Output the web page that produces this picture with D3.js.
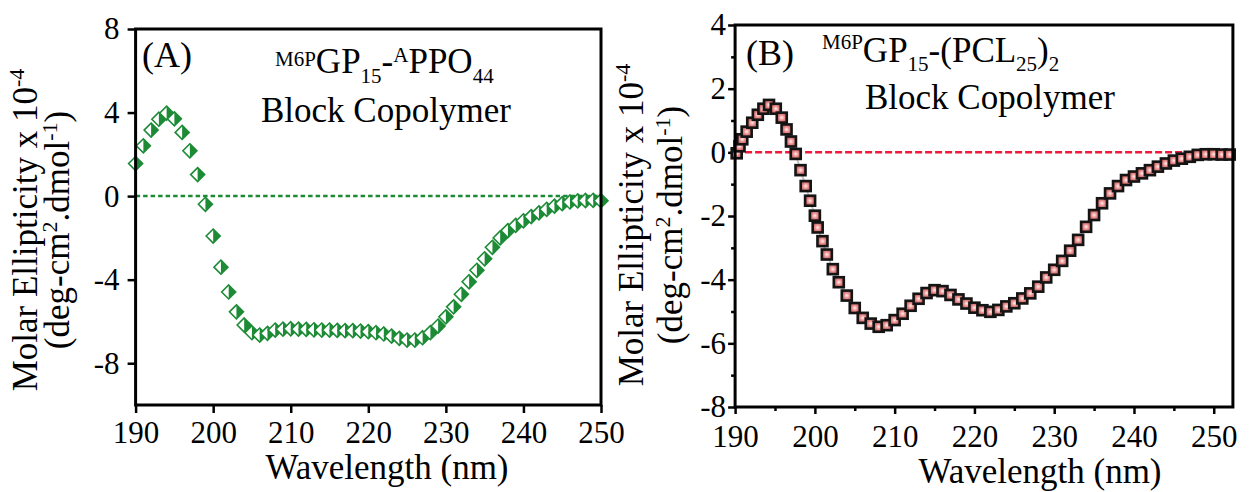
<!DOCTYPE html>
<html><head><meta charset="utf-8">
<script src="https://cdn.jsdelivr.net/npm/d3@7"></script>
<style>
body{margin:0;background:#fff}
svg{display:block}
text{font-family:"Liberation Serif","Times New Roman",serif;fill:#000}
</style>
</head><body>
<svg id="chart" width="1249" height="492"></svg>
<script>
// ---------- Panel A data ----------
const aWavelength = [190,191,192,193,194,195,196,197,198,199,200,201,202,203,204,205,206,207,208,209,210,
  211,212,213,214,215,216,217,218,219,220,221,222,223,224,225,226,227,228,229,230,
  231,232,233,234,235,236,237,238,239,240,241,242,243,244,245,246,247,248,249,250];
const aEllipticity = [1.56,2.41,3.16,3.68,3.97,3.70,3.05,2.17,1.03,-0.39,-1.91,-3.40,-4.59,-5.54,-6.17,-6.54,-6.65,-6.57,-6.41,-6.37,-6.35,
  -6.37,-6.38,-6.40,-6.41,-6.41,-6.43,-6.44,-6.44,-6.46,-6.49,-6.54,-6.60,-6.70,-6.81,-6.89,-6.89,-6.78,-6.54,-6.22,-5.78,
  -5.30,-4.70,-4.10,-3.55,-3.00,-2.45,-2.00,-1.65,-1.40,-1.18,-0.98,-0.80,-0.63,-0.48,-0.36,-0.28,-0.23,-0.21,-0.20,-0.22];
const aXTicks = [190,200,210,220,230,240,250];
const aYTicks = [8,4,0,-4,-8];

// ---------- Panel B data ----------
const bWavelength = [190.2,190.55,190.9,191.45,192.15,192.85,193.55,194.25,195.1,195.85,196.45,197.0,197.6,198.2,198.85,199.4,
  200.0,200.35,200.95,201.5,202.25,203,204,205,206,207,208,209,210,211,212,213,214,215,216,217,218,219,220,
  221,222,223,224,225,226,227,228,229,230,231,232,233,234,235,236,237,238,239,240,241,242,243,244,245,246,247,248,249,250,251,252];
const bEllipticity = [-0.03,0.19,0.41,0.65,0.93,1.18,1.37,1.49,1.37,1.09,0.72,0.34,-0.05,-0.56,-1.06,-1.52,
  -1.99,-2.36,-2.79,-3.21,-3.67,-4.08,-4.50,-4.89,-5.20,-5.38,-5.48,-5.43,-5.27,-5.07,-4.82,-4.60,-4.42,-4.33,-4.36,-4.48,-4.62,-4.75,-4.88,
  -4.96,-5.01,-4.95,-4.84,-4.74,-4.59,-4.43,-4.22,-3.93,-3.69,-3.41,-3.09,-2.75,-2.34,-1.97,-1.60,-1.29,-1.06,-0.87,-0.76,-0.66,-0.56,-0.45,-0.35,-0.26,-0.20,-0.14,-0.08,-0.06,-0.06,-0.07,-0.07];
const bXTicks = [190,200,210,220,230,240,250];
const bXMinor = [195,205,215,225,235,245];
const bYTicks = [4,2,0,-2,-4,-6,-8];
const bYMinor = [3,1,-1,-3,-5,-7];

const svg = d3.select("#chart");
const green = "#1d8b36";
const red = "#ee1a3c";

const defs = svg.append("defs");
const rg = defs.append("radialGradient").attr("id","pinkGrad");
rg.append("stop").attr("offset","0%").attr("stop-color","#fff2f2");
rg.append("stop").attr("offset","45%").attr("stop-color","#f39a9a");
rg.append("stop").attr("offset","100%").attr("stop-color","#b85a5a");

function styleAxis(g, fs){
  g.select(".domain").remove();
  g.selectAll(".tick line").attr("stroke","#000").attr("stroke-width",2.5);
  g.selectAll(".tick text").style("font-size",fs+"px").attr("fill","#000")
    .style("font-family",'"Liberation Serif","Times New Roman",serif');
}
const fmt = d => String(d);

// ================= Panel A =================
const ax = d3.scaleLinear().domain([190,250]).range([135.6,601]);
const ay = d3.scaleLinear().domain([-10,8]).range([405,29]);
const gA = svg.append("g");

gA.append("g").attr("transform","translate(0,405)")
  .call(d3.axisBottom(ax).tickValues(aXTicks).tickSize(8).tickPadding(8).tickFormat(fmt))
  .call(g=>styleAxis(g,31));
gA.append("g").attr("transform","translate(135.6,0)")
  .call(d3.axisLeft(ay).tickValues(aYTicks).tickSize(8).tickPadding(8).tickFormat(fmt))
  .call(g=>styleAxis(g,31));

gA.append("line").attr("x1",ax(190)).attr("x2",ax(250)).attr("y1",ay(0)).attr("y2",ay(0))
  .attr("stroke",green).attr("stroke-width",2.5).attr("stroke-dasharray","4.5,3");

const dia = 7;
const aPts = gA.append("g").selectAll("g").data(aWavelength.map((w,i)=>({w, v:aEllipticity[i]})))
  .join("g").attr("transform", d=>`translate(${ax(d.w)},${ay(d.v)})`);
aPts.append("path").attr("d",`M0,${-dia}L${dia},0L0,${dia}L${-dia},0Z`).attr("fill","#fff");
aPts.append("path").attr("d",`M0,${-dia}L${dia},0L0,${dia}Z`).attr("fill",green);
aPts.append("path").attr("d",`M0,${-dia}L${dia},0L0,${dia}L${-dia},0Z`).attr("fill","none")
  .attr("stroke",green).attr("stroke-width",1.6);

gA.append("rect").attr("x",135.6).attr("y",29).attr("width",601-135.6).attr("height",405-29)
  .attr("fill","none").attr("stroke","#000").attr("stroke-width",3);

gA.append("text").attr("x",142).attr("y",67).style("font-size","36px").text("(A)");
const tA = gA.append("text").attr("x",275).attr("y",73).style("font-size","35px");
tA.append("tspan").attr("dy",-7).style("font-size","21px").text("M6P");
tA.append("tspan").attr("dy",7).text("GP");
tA.append("tspan").attr("dy",10).style("font-size","21px").text("15");
tA.append("tspan").attr("dy",-10).text("-");
tA.append("tspan").attr("dy",-11).style("font-size","21px").text("A");
tA.append("tspan").attr("dy",11).text("PPO");
tA.append("tspan").attr("dy",10).style("font-size","21px").text("44");
gA.append("text").attr("x",261).attr("y",122).style("font-size","35px").text("Block Copolymer");

gA.append("text").attr("x",387).attr("y",479).attr("text-anchor","middle").style("font-size","35px").text("Wavelength (nm)");
const yA1 = gA.append("text").attr("transform","translate(37,230) rotate(-90)").attr("text-anchor","middle").style("font-size","35px");
yA1.append("tspan").text("Molar Ellipticity x 10");
yA1.append("tspan").attr("dy",-13).style("font-size","22px").text("-4");
const yA2 = gA.append("text").attr("transform","translate(69,230) rotate(-90)").attr("text-anchor","middle").style("font-size","35px");
yA2.append("tspan").text("(deg-cm");
yA2.append("tspan").attr("dy",-12).style("font-size","22px").text("2");
yA2.append("tspan").attr("dy",12).text(".dmol");
yA2.append("tspan").attr("dy",-12).style("font-size","22px").text("-1");
yA2.append("tspan").attr("dy",12).text(")");

// ================= Panel B =================
const bx = d3.scaleLinear().domain([190,252.4]).range([735.1,1232.9]);
const by = d3.scaleLinear().domain([-8,4]).range([407,25]);
const gB = svg.append("g");

gB.append("g").attr("transform","translate(0,407)")
  .call(d3.axisBottom(bx).tickValues(bXTicks).tickSize(7).tickPadding(11).tickFormat(fmt))
  .call(g=>styleAxis(g,31));
gB.append("g").attr("transform","translate(0,407)")
  .call(d3.axisBottom(bx).tickValues(bXMinor).tickSize(4).tickFormat(""))
  .call(g=>styleAxis(g,31));
gB.append("g").attr("transform","translate(735.1,0)")
  .call(d3.axisLeft(by).tickValues(bYTicks).tickSize(7).tickPadding(2).tickFormat(fmt))
  .call(g=>styleAxis(g,31));
gB.append("g").attr("transform","translate(735.1,0)")
  .call(d3.axisLeft(by).tickValues(bYMinor).tickSize(4).tickFormat(""))
  .call(g=>styleAxis(g,31));

gB.append("line").attr("x1",bx(190)).attr("x2",bx(252.4)).attr("y1",by(0)).attr("y2",by(0))
  .attr("stroke",red).attr("stroke-width",2.5).attr("stroke-dasharray","7,3");

const bData = bWavelength.map((w,i)=>({w, v:bEllipticity[i]}));
gB.append("path").datum(bData)
  .attr("d", d3.line().x(d=>bx(d.w)).y(d=>by(d.v)))
  .attr("fill","none").attr("stroke","#c4c4c4").attr("stroke-width",2);
const sq = 10;
gB.append("g").selectAll("rect").data(bData).join("rect")
  .attr("x",d=>bx(d.w)-sq/2).attr("y",d=>by(d.v)-sq/2).attr("width",sq).attr("height",sq)
  .attr("fill","url(#pinkGrad)").attr("stroke","#141414").attr("stroke-width",2.6);

gB.append("rect").attr("x",735.1).attr("y",25).attr("width",1232.9-735.1).attr("height",407-25)
  .attr("fill","none").attr("stroke","#000").attr("stroke-width",3);

gB.append("text").attr("x",746).attr("y",65).style("font-size","36px").text("(B)");
const tB = gB.append("text").attr("x",822).attr("y",62).style("font-size","35px");
tB.append("tspan").attr("dy",-13).style("font-size","21px").text("M6P");
tB.append("tspan").attr("dy",13).text("GP");
tB.append("tspan").attr("dy",9).style("font-size","21px").text("15");
tB.append("tspan").attr("dy",-9).text("-(PCL");
tB.append("tspan").attr("dy",9).style("font-size","21px").text("25");
tB.append("tspan").attr("dy",-9).text(")");
tB.append("tspan").attr("dy",9).style("font-size","21px").text("2");
gB.append("text").attr("x",865).attr("y",109).style("font-size","35px").text("Block Copolymer");

gB.append("text").attr("x",1040).attr("y",483).attr("text-anchor","middle").style("font-size","35px").text("Wavelength (nm)");
const yB1 = gB.append("text").attr("transform","translate(643,225) rotate(-90)").attr("text-anchor","middle").style("font-size","35px");
yB1.append("tspan").text("Molar Ellipticity x 10");
yB1.append("tspan").attr("dy",-13).style("font-size","22px").text("-4");
const yB2 = gB.append("text").attr("transform","translate(682,225) rotate(-90)").attr("text-anchor","middle").style("font-size","35px");
yB2.append("tspan").text("(deg-cm");
yB2.append("tspan").attr("dy",-12).style("font-size","22px").text("2");
yB2.append("tspan").attr("dy",12).text(".dmol");
yB2.append("tspan").attr("dy",-12).style("font-size","22px").text("-1");
yB2.append("tspan").attr("dy",12).text(")");
</script>
</body></html>
